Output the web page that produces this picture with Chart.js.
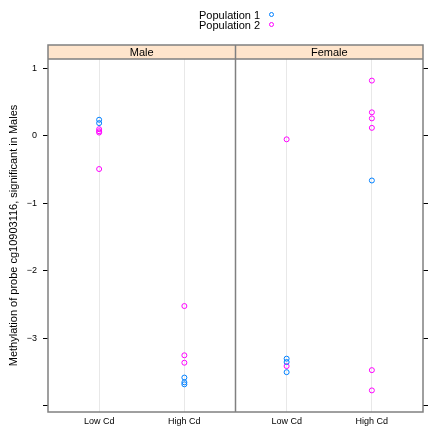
<!DOCTYPE html>
<html>
<head>
<meta charset="utf-8">
<script src="https://cdn.jsdelivr.net/npm/chart.js@4/dist/chart.umd.min.js"></script>
<style>
  body { margin: 0; background: #fff; font-family: "Liberation Sans", Arial, sans-serif; }
  #wrap { position: relative; width: 428px; height: 427px; }
  #legend { position: absolute; left: 199px; top: 10px; font-size: 11px; line-height: 10px; color: #000; }
  #legend div { position: relative; height: 10px; white-space: nowrap; }
  #legend span.dot { position: absolute; left: 70px; top: 2px; width: 5px; height: 5px; border-radius: 50%; border: 1px solid; box-sizing: border-box; }
</style>
</head>
<body>
<div id="wrap">
  <canvas id="c" width="428" height="427"></canvas>
  <div id="legend">
    <div>Population 1<span class="dot" style="border-color:#0080ff"></span></div>
    <div>Population 2<span class="dot" style="border-color:#ff00ff"></span></div>
  </div>
</div>
<script>
// === DATA ===
const panels = ['Male', 'Female'];
const categories = ['Low Cd', 'High Cd'];
const yTicks = [1, 0, -1, -2, -3, -4];

const maleLowPop1 = [0.24, 0.19];
const maleLowPop2 = [0.1, 0.07, 0.05, -0.49];
const maleHighPop1 = [-3.58, -3.65, -3.68];
const maleHighPop2 = [-2.52, -3.25, -3.36];
const femaleLowPop1 = [-3.30, -3.35, -3.50];
const femaleLowPop2 = [-0.05, -3.41];
const femaleHighPop1 = [-0.66];
const femaleHighPop2 = [0.82, 0.35, 0.26, 0.12, -3.47, -3.77];

const COLORS = { pop1: '#0080ff', pop2: '#ff00ff', strip: '#ffe5cc', frame: '#808080' };

// each panel spans 2.2 units on x (lattice factor padding), categories at 0.6 and 1.6 inside it
const PANEL_W = 2.2;
const catX = (p, c) => 0.4 + p * PANEL_W + 0.6 + c;
const pts = (p, c, vals) => vals.map(v => ({ x: catX(p, c), y: v }));

const pop1 = [...pts(0, 0, maleLowPop1), ...pts(0, 1, maleHighPop1), ...pts(1, 0, femaleLowPop1), ...pts(1, 1, femaleHighPop1)];
const pop2 = [...pts(0, 0, maleLowPop2), ...pts(0, 1, maleHighPop2), ...pts(1, 0, femaleLowPop2), ...pts(1, 1, femaleHighPop2)];

const xTickPos = [];
const xTickLab = [];
panels.forEach((p, i) => categories.forEach((c, j) => { xTickPos.push(catX(i, j)); xTickLab.push(c); }));

const fmt = v => v < 0 ? '\u2212' + Math.abs(v) : String(v);

// strips + panel frames
const latticePlugin = {
    id: 'lattice',
    afterDraw(chart) {
        const { ctx, chartArea: a, scales: { x } } = chart;
        const stripH = 14;
        ctx.save();
        ctx.fillStyle = COLORS.strip;
        ctx.fillRect(a.left, a.top - stripH, a.right - a.left, stripH);
        ctx.strokeStyle = COLORS.frame;
        ctx.lineWidth = 1.5;
        ctx.strokeRect(a.left, a.top - stripH, a.right - a.left, a.bottom - a.top + stripH);
        ctx.beginPath();
        ctx.moveTo(a.left, a.top); ctx.lineTo(a.right, a.top);
        panels.forEach((p, i) => {
            if (i > 0) { const px = x.getPixelForValue(0.4 + i * PANEL_W); ctx.moveTo(px, a.top - stripH); ctx.lineTo(px, a.bottom); }
        });
        ctx.stroke();
        ctx.fillStyle = '#000';
        ctx.font = '11px "Liberation Sans", Arial, sans-serif';
        ctx.textAlign = 'center';
        ctx.textBaseline = 'middle';
        panels.forEach((p, i) => {
            const cx = (x.getPixelForValue(0.4 + i * PANEL_W) + x.getPixelForValue(0.4 + (i + 1) * PANEL_W)) / 2;
            ctx.fillText(p, cx, a.top - stripH / 2 + 0.5);
        });
        ctx.restore();
    }
};

const tickFont = { family: '"Liberation Sans", Arial, sans-serif', size: 9 };

new Chart(document.getElementById('c').getContext('2d'), {
    type: 'scatter',
    data: {
        datasets: [
            { label: 'Population 1', data: pop1, borderColor: COLORS.pop1, backgroundColor: 'transparent', pointRadius: 2.5, pointBorderWidth: 1 },
            { label: 'Population 2', data: pop2, borderColor: COLORS.pop2, backgroundColor: 'transparent', pointRadius: 2.5, pointBorderWidth: 1 }
        ]
    },
    options: {
        responsive: false, animation: false,
        layout: { padding: { top: 59, right: 0, left: 0, bottom: 0 } },
        plugins: { legend: { display: false }, tooltip: { enabled: false } },
        scales: {
            x: {
                type: 'linear', min: 0.4, max: 0.4 + panels.length * PANEL_W,
                afterBuildTicks: s => { s.ticks = xTickPos.map(v => ({ value: v })); },
                afterFit: s => { s.height = 15; },
                grid: { color: '#e8e8e8', drawTicks: false },
                border: { display: false },
                ticks: { color: '#000', font: tickFont, padding: 4, maxRotation: 0, autoSkip: false,
                    callback: (v, i) => xTickLab[i] }
            },
            y: {
                position: 'left', min: -4.09, max: 1.14,
                afterBuildTicks: s => { s.ticks = yTicks.map(v => ({ value: v })); },
                afterFit: s => { s.width = 48; },
                grid: { drawOnChartArea: false, drawTicks: true, tickLength: 5, color: '#000' },
                border: { display: false },
                ticks: { color: '#000', font: tickFont, padding: 6, callback: v => v === -4 ? '' : fmt(v) },
                title: { display: true, text: 'Methylation of probe cg10903116, significant in Males',
                    color: '#000', font: { family: '"Liberation Sans", Arial, sans-serif', size: 11 }, padding: { top: 7, bottom: 0 } }
            },
            y2: {
                position: 'right', min: -4.09, max: 1.14,
                afterBuildTicks: s => { s.ticks = yTicks.map(v => ({ value: v })); },
                afterFit: s => { s.width = 4; },
                grid: { drawOnChartArea: false, drawTicks: true, tickLength: 5, color: '#000' },
                border: { display: false },
                ticks: { display: true, font: tickFont, callback: () => '' }
            }
        }
    },
    plugins: [latticePlugin]
});
</script>
</body>
</html>
